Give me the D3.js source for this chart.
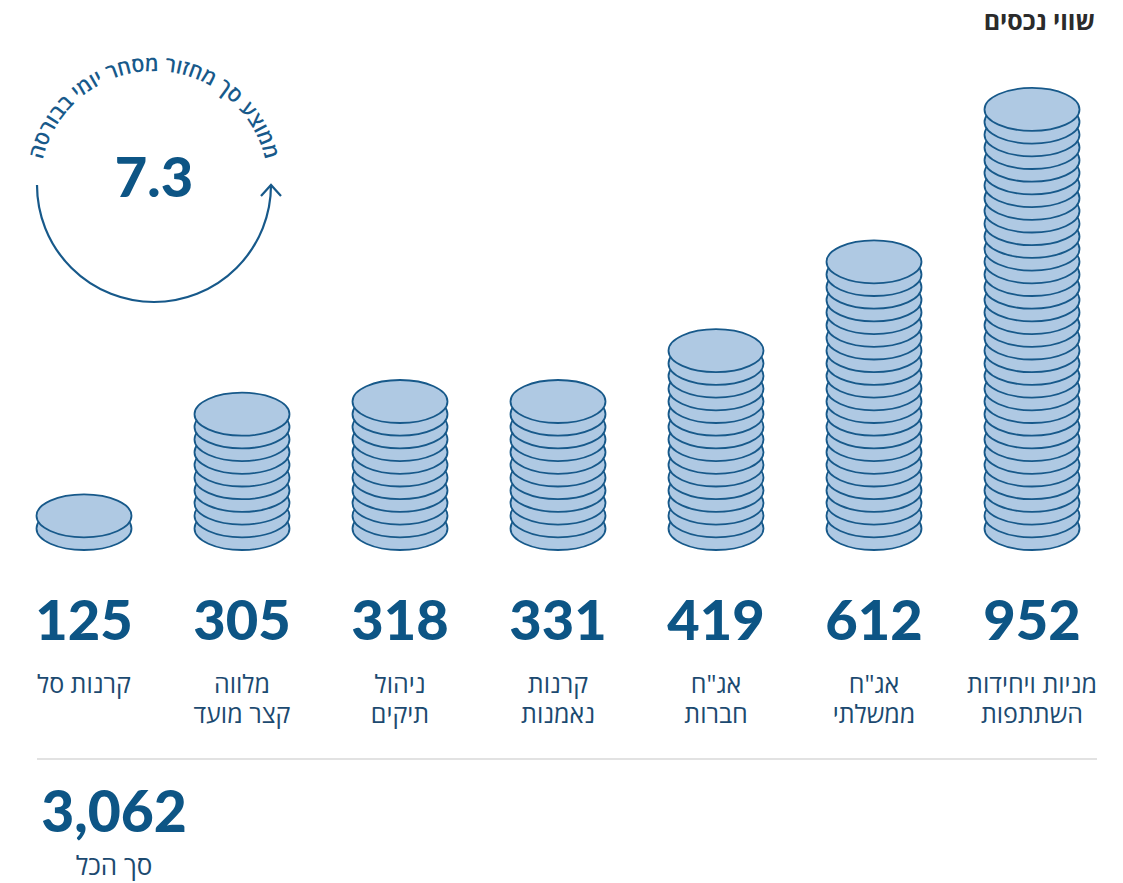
<!DOCTYPE html>
<html lang="he">
<head>
<meta charset="utf-8">
<script src="https://cdn.jsdelivr.net/npm/d3@7"></script>
<style>
  body { margin: 0; background: #fff; }
  svg { display: block; }
  .num { font-family: Lato, "Open Sans", sans-serif; font-weight: 900; fill: #0d5585; }
  .lbl { font-family: "Open Sans", "Liberation Sans", sans-serif; fill: #1c4a70; }
</style>
</head>
<body>
<div id="chart"></div>
<script>
// data, right to left as in the picture
const categories = ['מניות ויחידות השתתפות', 'אג"ח ממשלתי', 'אג"ח חברות', 'קרנות נאמנות', 'ניהול תיקים', 'מלווה קצר מועד', 'קרנות סל'];
const labelLines = [['מניות ויחידות', 'השתתפות'], ['אג"ח', 'ממשלתי'], ['אג"ח', 'חברות'], ['קרנות', 'נאמנות'], ['ניהול', 'תיקים'], ['מלווה', 'קצר מועד'], ['קרנות סל']];
const values = [952, 612, 419, 331, 318, 305, 125];
const coins = [34, 22, 15, 11, 11, 10, 2];
const avgTurnover = 7.3;
const title = 'שווי נכסים';
const arcText = 'ממוצע סך מחזור מסחר יומי בבורסה';
const totalLabel = 'סך הכל';

const width = 1123, height = 883;
const svg = d3.select('#chart').append('svg')
  .attr('width', width)
  .attr('height', height);

const x = d3.scaleBand()
  .domain(categories)
  .range([1111, 5]);
const cx = (c) => x(c) + x.bandwidth() / 2;

const maxCoins = d3.max(coins);
const step = 12.7;
const y = d3.scaleLinear()
  .domain([0, maxCoins - 1])
  .range([528.5, 528.5 - (maxCoins - 1) * step]);

const rx = 47.5, ry = 21.5;

// title
svg.append('text')
  .attr('x', 1095)
  .attr('y', 30)
  .attr('text-anchor', 'end')
  .style('font-family', '"Open Sans", "Liberation Sans", sans-serif')
  .style('font-weight', 700)
  .style('font-size', '25px')
  .style('fill', '#2b2b2b')
  .text(title);

// coin stacks
const stack = svg.selectAll('.stack')
  .data(categories)
  .enter().append('g')
  .attr('class', 'stack');

stack.selectAll('ellipse')
  .data((c, i) => d3.range(coins[i]).map((k) => ({c, k})))
  .enter().append('ellipse')
  .attr('cx', (d) => cx(d.c))
  .attr('cy', (d) => y(d.k))
  .attr('rx', rx)
  .attr('ry', ry)
  .style('fill', '#afc9e3')
  .style('stroke', '#17598a')
  .style('stroke-width', 1.8);

// values
svg.selectAll('.num-v')
  .data(categories)
  .enter().append('text')
  .attr('class', 'num num-v')
  .attr('x', (c) => cx(c))
  .attr('y', 640)
  .attr('text-anchor', 'middle')
  .style('font-size', '56px')
  .text((c, i) => values[i]);

// labels, one text per line
svg.selectAll('.cat')
  .data(categories.flatMap((c, i) => labelLines[i].map((t, j) => ({c, t, j}))))
  .enter().append('text')
  .attr('class', 'lbl cat')
  .attr('text-anchor', 'middle')
  .style('font-size', '25px')
  .attr('x', (d) => cx(d.c))
  .attr('y', (d) => 693 + d.j * 30)
  .text((d) => d.t);

// separator
svg.append('line')
  .attr('x1', 37).attr('x2', 1097)
  .attr('y1', 759).attr('y2', 759)
  .style('stroke', '#d9d9d9')
  .style('stroke-width', 1.5);

// total
const total = d3.sum(values);
svg.append('text')
  .attr('class', 'num')
  .attr('x', 114)
  .attr('y', 832)
  .attr('text-anchor', 'middle')
  .style('font-size', '57px')
  .text(d3.format(',')(total));

svg.append('text')
  .attr('class', 'lbl')
  .attr('x', 114)
  .attr('y', 875)
  .attr('text-anchor', 'middle')
  .style('font-size', '26px')
  .text(totalLabel);

// turnover circle
const ccx = 154, ccy = 185, cr = 117;
const ring = d3.path();
ring.arc(ccx, ccy, cr, Math.PI, 0, true);
svg.append('path')
  .attr('d', ring.toString())
  .style('fill', 'none')
  .style('stroke', '#17598a')
  .style('stroke-width', 2.2);

const tip = [ccx + cr, ccy];
svg.append('path')
  .attr('d', d3.line()([[tip[0] - 10, tip[1] + 11], tip, [tip[0] + 10, tip[1] + 11]]))
  .style('fill', 'none')
  .style('stroke', '#17598a')
  .style('stroke-width', 2.2);

const tr = 114;
const textArc = d3.path();
textArc.arc(ccx, ccy, tr, Math.PI - 0.4, 2 * Math.PI + 0.4, false);
svg.append('defs').append('path')
  .attr('id', 'turnover-arc')
  .attr('d', textArc.toString());

svg.append('text')
  .attr('class', 'lbl')
  .attr('direction', 'rtl')
  .style('font-size', '21px')
  .style('font-weight', 600)
  .style('fill', '#17598a')
  .append('textPath')
  .attr('href', '#turnover-arc')
  .attr('startOffset', '50%')
  .attr('text-anchor', 'middle')
  .text(arcText);

svg.append('text')
  .attr('class', 'num')
  .attr('x', 154)
  .attr('y', 197)
  .attr('text-anchor', 'middle')
  .style('font-size', '56px')
  .text(avgTurnover);
</script>
</body>
</html>
